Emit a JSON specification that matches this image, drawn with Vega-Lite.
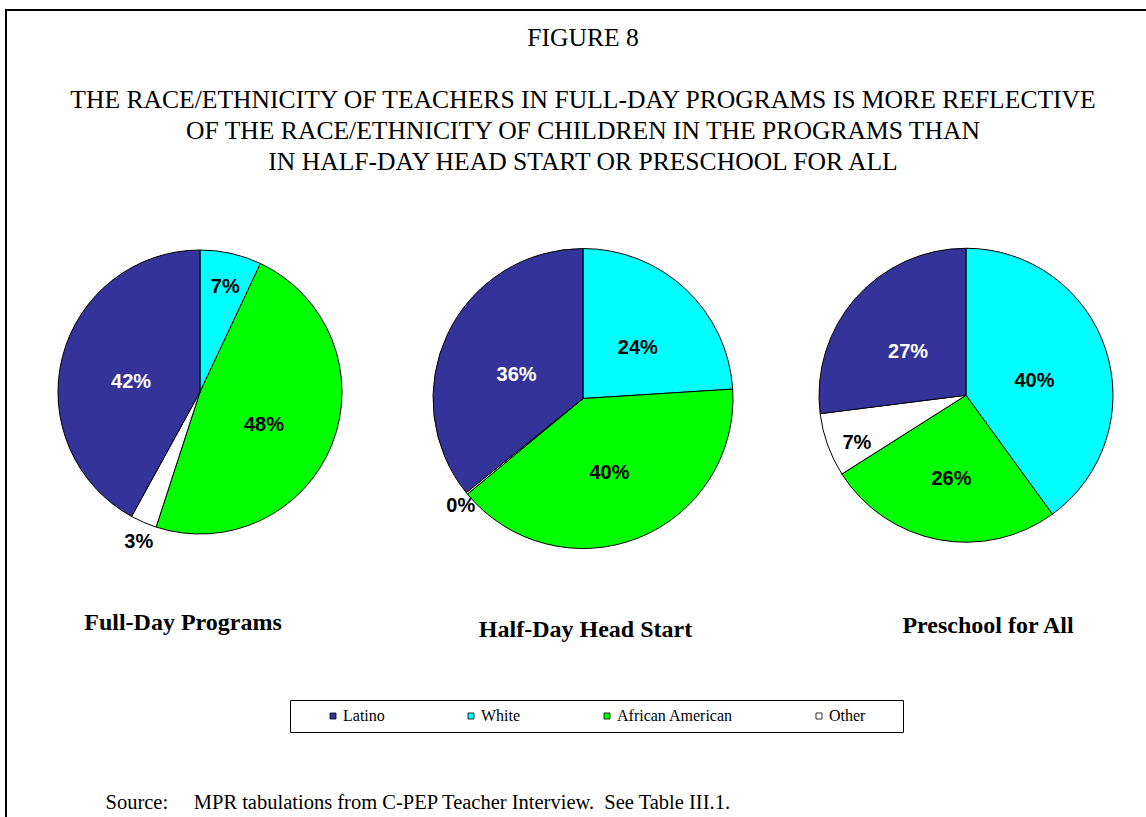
{
  "$schema": "https://vega.github.io/schema/vega-lite/v6.json",
  "width": 1154,
  "height": 812,
  "autosize": {"type": "none"},
  "padding": {"left": 6, "top": 10, "right": -14, "bottom": -5},
  "background": "white",
  "config": {
    "view": {"stroke": "black", "strokeWidth": 2},
    "font": "Liberation Serif"
  },
  "title": {
    "text": "FIGURE 8",
    "subtitle": ["THE RACE/ETHNICITY OF TEACHERS IN FULL-DAY PROGRAMS IS MORE REFLECTIVE", "OF THE RACE/ETHNICITY OF CHILDREN IN THE PROGRAMS THAN", "IN HALF-DAY HEAD START OR PRESCHOOL FOR ALL"],
    "anchor": "middle",
    "frame": "group",
    "font": "Liberation Serif",
    "fontSize": 25.6,
    "fontWeight": "normal",
    "color": "black",
    "subtitleFont": "Liberation Serif",
    "subtitleFontSize": 25.6,
    "subtitleFontWeight": "normal",
    "subtitleColor": "black",
    "subtitleLineHeight": 31,
    "subtitlePadding": 37,
    "offset": -166
  },
  "data": {
    "values": [
      {"pie": "Full-Day Programs", "race": "White", "value": 0.07, "k": 1},
      {"pie": "Full-Day Programs", "race": "African American", "value": 0.48, "k": 2},
      {"pie": "Full-Day Programs", "race": "Other", "value": 0.03, "k": 3},
      {"pie": "Full-Day Programs", "race": "Latino", "value": 0.42, "k": 4},
      {"pie": "Half-Day Head Start", "race": "White", "value": 0.24, "k": 1},
      {"pie": "Half-Day Head Start", "race": "African American", "value": 0.40, "k": 2},
      {"pie": "Half-Day Head Start", "race": "Other", "value": 0.002, "k": 3},
      {"pie": "Half-Day Head Start", "race": "Latino", "value": 0.358, "k": 4},
      {"pie": "Preschool for All", "race": "White", "value": 0.40, "k": 1},
      {"pie": "Preschool for All", "race": "African American", "value": 0.26, "k": 2},
      {"pie": "Preschool for All", "race": "Other", "value": 0.07, "k": 3},
      {"pie": "Preschool for All", "race": "Latino", "value": 0.27, "k": 4}
    ]
  },
  "layer": [
    {
      "transform": [{"filter": "datum.pie === 'Full-Day Programs'"}],
      "encoding": {
        "x": {"field": "pie", "type": "nominal", "scale": {"type": "point", "domain": ["Full-Day Programs", "Half-Day Head Start", "Preschool for All"], "range": [194, 960], "padding": 0},
              "axis": {"orient": "bottom", "labels": false, "ticks": false, "domain": false, "grid": false,
                       "title": "Source:\u00a0\u00a0\u00a0\u00a0 MPR tabulations from C-PEP Teacher Interview.\u00a0 See Table III.1.",
                       "titleFont": "Liberation Serif", "titleFontSize": 20.5, "titleFontWeight": "normal", "titleColor": "black",
                       "titleX": 99, "titleY": -20, "titleAlign": "left", "titleAnchor": "start", "titleBaseline": "middle", "titleAngle": 0}},
        "y": {"field": "pie", "type": "nominal", "scale": {"type": "point", "domain": ["Full-Day Programs", "Preschool for All", "Half-Day Head Start"], "range": [382, 388.5], "padding": 0}, "axis": null},
        "theta": {"field": "value", "type": "quantitative", "stack": true, "scale": {"domain": [0, 1]}},
        "order": {"field": "k", "type": "quantitative"},
        "color": {"field": "race", "type": "nominal", "scale": {"domain": ["Latino", "White", "African American", "Other"], "range": ["#333399", "#00FFFF", "#00FF00", "#FFFFFF"]},
                  "legend": {"title": "\u00a0", "titleOrient": "right", "titlePadding": 30, "titleFontSize": 16, "orient": "none", "legendX": 284, "legendY": 690, "direction": "horizontal", "columns": 4,
                             "symbolType": "square", "symbolSize": 36, "symbolStrokeColor": "black", "symbolStrokeWidth": 0.8, "symbolOffset": 27,
                             "labelFont": "Liberation Serif", "labelFontSize": 16, "labelColor": "black", "labelOffset": 2,
                             "columnPadding": 51, "padding": 8, "strokeColor": "black", "fillColor": "white"}}
      },
      "layer": [
        {"mark": {"type": "arc", "outerRadius": 142, "stroke": "black", "strokeWidth": 1}},
        {"mark": {"type": "text", "font": "Liberation Sans", "fontSize": 20, "fontWeight": "bold", "align": "center", "baseline": "middle", "dy": 8},
         "encoding": {
           "text": {"field": "value", "type": "quantitative", "format": ".0%"},
           "radius": {"field": "value", "type": "quantitative", "scale": {"type": "linear", "zero": false, "domain": [0, 0.04, 0.07, 0.25, 0.5], "range": [158, 153, 116, 78, 68]}},
           "fill": {"condition": {"test": "datum.race === 'Latino'", "value": "white"}, "value": "black"}
         }}
      ]
    },
    {
      "transform": [{"filter": "datum.pie === 'Half-Day Head Start'"}],
      "encoding": {
        "x": {"field": "pie", "type": "nominal"},
        "y": {"field": "pie", "type": "nominal"},
        "theta": {"field": "value", "type": "quantitative", "stack": true},
        "order": {"field": "k", "type": "quantitative"},
        "color": {"field": "race", "type": "nominal"}
      },
      "layer": [
        {"mark": {"type": "arc", "outerRadius": 150, "stroke": "black", "strokeWidth": 1}},
        {"mark": {"type": "text", "font": "Liberation Sans", "fontSize": 20, "fontWeight": "bold", "align": "center", "baseline": "middle", "dy": 8},
         "encoding": {
           "text": {"field": "value", "type": "quantitative", "format": ".0%"},
           "radius": {"field": "value", "type": "quantitative"},
           "fill": {"condition": {"test": "datum.race === 'Latino'", "value": "white"}, "value": "black"}
         }}
      ]
    },
    {
      "transform": [{"filter": "datum.pie === 'Preschool for All'"}],
      "encoding": {
        "x": {"field": "pie", "type": "nominal"},
        "y": {"field": "pie", "type": "nominal"},
        "theta": {"field": "value", "type": "quantitative", "stack": true},
        "order": {"field": "k", "type": "quantitative"},
        "color": {"field": "race", "type": "nominal"}
      },
      "layer": [
        {"mark": {"type": "arc", "outerRadius": 147, "stroke": "black", "strokeWidth": 1}},
        {"mark": {"type": "text", "font": "Liberation Sans", "fontSize": 20, "fontWeight": "bold", "align": "center", "baseline": "middle", "dy": 8},
         "encoding": {
           "text": {"field": "value", "type": "quantitative", "format": ".0%"},
           "radius": {"field": "value", "type": "quantitative"},
           "fill": {"condition": {"test": "datum.race === 'Latino'", "value": "white"}, "value": "black"}
         }}
      ]
    },
    {
      "transform": [{"filter": "datum.k === 1"}],
      "mark": {"type": "text", "font": "Liberation Serif", "fontSize": 24, "fontWeight": "bold", "align": "center", "baseline": "middle", "dy": 231, "color": "black"},
      "encoding": {
        "x": {"field": "pie", "type": "nominal"},
        "y": {"field": "pie", "type": "nominal"},
        "xOffset": {"field": "pie", "type": "nominal", "scale": {"type": "point", "domain": ["Full-Day Programs", "Half-Day Head Start", "Preschool for All"], "range": [-17, 22], "padding": 0}},
        "text": {"field": "pie", "type": "nominal"}
      }
    }
  ]
}
